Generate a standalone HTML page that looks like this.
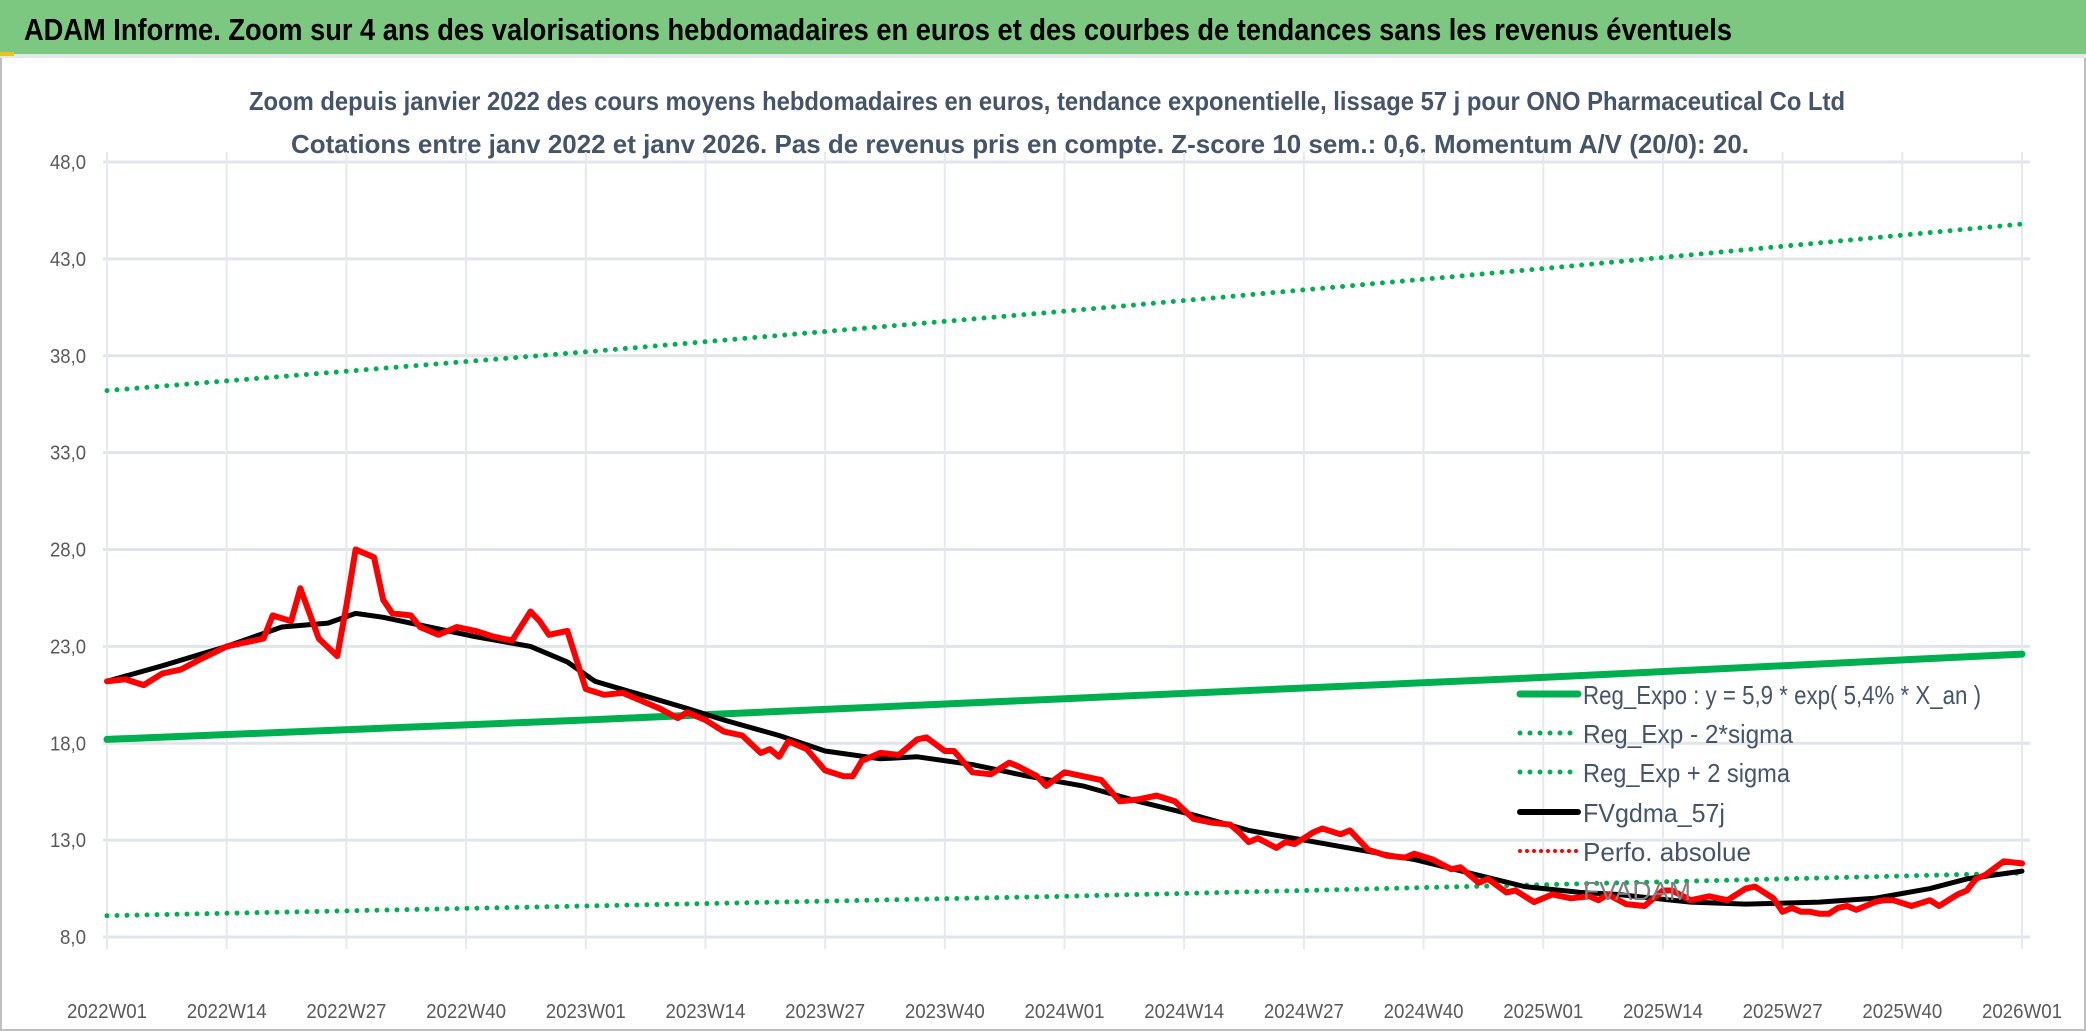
<!DOCTYPE html>
<html><head><meta charset="utf-8"><style>
html,body{margin:0;padding:0;background:#fff;}
svg{display:block;}
</style></head><body>
<svg id="chart" width="2086" height="1031" viewBox="0 0 2086 1031" xmlns="http://www.w3.org/2000/svg">
<rect x="0" y="0" width="2086" height="1031" fill="#fff"/>
<rect x="1" y="1" width="2084" height="1029" fill="none" stroke="#bfbfbf" stroke-width="2"/>
<rect x="0" y="0" width="2086" height="54" fill="#7dc880"/>
<rect x="0" y="54" width="2086" height="4" fill="#e4e7ec"/>
<rect x="0" y="52" width="14" height="4" fill="#f0c020"/>
<text x="24" y="40" font-family="Liberation Sans Narrow, Liberation Sans, sans-serif" font-weight="bold" font-size="31" fill="#000" textLength="1708" lengthAdjust="spacingAndGlyphs">ADAM Informe. Zoom sur 4 ans des valorisations hebdomadaires en euros et des courbes de tendances sans les revenus éventuels</text>
<text x="1047" y="110" text-anchor="middle" font-family="Liberation Sans Narrow, Liberation Sans, sans-serif" font-weight="bold" font-size="26" fill="#44546a" textLength="1596" lengthAdjust="spacingAndGlyphs">Zoom depuis janvier 2022 des cours moyens hebdomadaires en euros, tendance exponentielle, lissage 57 j pour ONO Pharmaceutical Co Ltd</text>
<text x="1020" y="153" text-anchor="middle" font-family="Liberation Sans Narrow, Liberation Sans, sans-serif" font-weight="bold" font-size="26" fill="#44546a" textLength="1458" lengthAdjust="spacingAndGlyphs">Cotations entre janv 2022 et janv 2026. Pas de revenus pris en compte. Z-score 10 sem.: 0,6. Momentum A/V (20/0): 20.</text>
<g id="grid"></g>
<g id="series"></g>
<g id="legend"></g>
</svg>
<script>
const yTicks = [8,13,18,23,28,33,38,43,48];
const xTickWeeks = [0,13,26,39,52,65,78,91,104,117,130,143,156,169,182,195,208];
const xTickLabels = ["2022W01","2022W14","2022W27","2022W40","2023W01","2023W14","2023W27","2023W40","2024W01","2024W14","2024W27","2024W40","2025W01","2025W14","2025W27","2025W40","2026W01"];

const priceWeeks = [0,2,4,6,8,10,13,15,17,18,20,21,23,25,26,27,29,30,31,33,34,36,38,40,42,44,46,47,48,50,52,54,56,58,60,62,63,65,67,69,71,72,73,74,76,78,80,81,82,84,86,88,89,91,92,94,96,98,99,101,102,104,106,108,110,112,114,116,118,120,122,123,124,125,127,128,129,131,132,134,135,137,139,141,142,144,146,147,149,150,152,153,155,157,159,161,162,163,165,167,169,170,172,173,174,176,178,179,181,182,183,184,185,186,187,188,189,190,192,193,194,196,198,199,200,201,202,203,204,206,208];
const priceValues = [21.2,21.3,21.0,21.6,21.8,22.3,23.0,23.2,23.4,24.6,24.3,26.0,23.4,22.5,25.1,28.0,27.6,25.4,24.7,24.6,24.0,23.6,24.0,23.8,23.5,23.3,24.8,24.3,23.6,23.8,20.8,20.5,20.6,20.2,19.8,19.3,19.6,19.2,18.6,18.4,17.5,17.7,17.3,18.1,17.7,16.6,16.3,16.3,17.1,17.5,17.4,18.2,18.3,17.6,17.6,16.5,16.4,17.0,16.8,16.3,15.8,16.5,16.3,16.1,15.0,15.1,15.3,15.0,14.1,13.9,13.8,13.4,12.9,13.1,12.6,12.9,12.8,13.4,13.6,13.3,13.5,12.5,12.2,12.1,12.3,12.0,11.5,11.6,10.8,11.0,10.3,10.4,9.8,10.2,10.0,10.1,9.9,10.2,9.7,9.6,10.4,10.4,9.9,10.0,10.1,9.9,10.5,10.6,10.0,9.3,9.5,9.3,9.3,9.2,9.2,9.5,9.6,9.4,9.8,9.9,9.9,9.6,9.9,9.6,9.9,10.2,10.4,11.0,11.2,11.9,11.8,12.1,11.7];

const fvWeeks = [0,6,13,19,24,27,30,35,40,46,50,53,58,63,67,73,78,84,88,94,100,106,112,118,124,130,136,142,148,154,160,164,168,172,178,186,192,198,202,208];
const fvValues = [21.2,22.0,23.0,24.0,24.2,24.7,24.5,24.0,23.5,23.0,22.2,21.2,20.5,19.8,19.2,18.4,17.6,17.2,17.3,16.9,16.3,15.8,15.0,14.3,13.5,13.0,12.5,12.0,11.3,10.6,10.3,10.2,10.0,9.8,9.7,9.8,10.0,10.5,11.0,11.4];

const regWeeks = [0,52,104,156,208];
const regValues = [18.2,19.2,20.3,21.4,22.6];
const regLowValues = [9.1,9.6,10.1,10.7,11.3];
const regHighValues = [36.2,38.2,40.3,42.5,44.8];

const legendLabels = ["Reg_Expo : y = 5,9 * exp( 5,4% *  X_an )","Reg_Exp - 2*sigma","Reg_Exp + 2 sigma","FVgdma_57j","Perfo. absolue","FVADAM"];
const legendWidths = [398,210,207,142,168,108];

const X0 = 107, X1 = 2022, Y8 = 937, PXU = 19.375;
function xs(w){ return X0 + (X1 - X0) * w / 208; }
function ys(v){ return Y8 - (v - 8) * PXU; }
const NS = "http://www.w3.org/2000/svg";
function mk(tag, attrs, parent){ const e = document.createElementNS(NS, tag); for (const k in attrs) e.setAttribute(k, attrs[k]); parent.appendChild(e); return e; }

const grid = document.getElementById('grid');
yTicks.forEach(v => {
  const l = mk('line', {x1:103, x2:2030, y1:ys(v), y2:ys(v), stroke:'#e1e4ea', 'stroke-width':3}, grid);
  
  
  const lab = v.toFixed(1).replace('.', ',');
  const a = {x:86, y:ys(v)+7, 'text-anchor':'end', 'font-family':'Liberation Sans Narrow, Liberation Sans, sans-serif', 'font-size':20, fill:'#595959'};
  if (lab.length > 3) { a.textLength = 36; a.lengthAdjust = 'spacingAndGlyphs'; } else { a.textLength = 26; a.lengthAdjust = 'spacingAndGlyphs'; }
  const t = mk('text', a, grid);
  t.textContent = lab;
  
  
});
xTickWeeks.forEach((w, i) => {
  const l = mk('line', {x1:xs(w), x2:xs(w), y1:ys(48)-10, y2:ys(8)+12, stroke:'#e6e9ee', 'stroke-width':2}, grid);
  
  
  const t = mk('text', {x:xs(w), y:1018, 'text-anchor':'middle', 'font-family':'Liberation Sans Narrow, Liberation Sans, sans-serif', 'font-size':20, fill:'#595959', textLength:80, lengthAdjust:'spacingAndGlyphs'}, grid);
  t.textContent = xTickLabels[i];
  
  
});

const series = document.getElementById('series');
function pts(ws, vs){ return ws.map((w,i)=>xs(w).toFixed(1)+','+ys(vs[i]).toFixed(1)).join(' '); }
const up = mk('polyline', {points:pts(regWeeks, regHighValues), fill:'none', stroke:'#00b050', 'stroke-width':5, 'stroke-dasharray':'0 10', 'stroke-linecap':'round'}, series);


const lo = mk('polyline', {points:pts(regWeeks, regLowValues), fill:'none', stroke:'#00b050', 'stroke-width':5, 'stroke-dasharray':'0 10', 'stroke-linecap':'round'}, series);


const rg = mk('polyline', {points:pts(regWeeks, regValues), fill:'none', stroke:'#00b050', 'stroke-width':7, 'stroke-linecap':'round'}, series);


const fv = mk('polyline', {points:pts(fvWeeks, fvValues), fill:'none', stroke:'#000', 'stroke-width':5, 'stroke-linejoin':'round', 'stroke-linecap':'round'}, series);


const pr = mk('polyline', {points:pts(priceWeeks, priceValues), fill:'none', stroke:'#ff0000', 'stroke-width':6, 'stroke-linejoin':'round', 'stroke-linecap':'round'}, series);



const legend = document.getElementById('legend');
const legendRowY = [694,733,772,812,851,890];
legendLabels.forEach((lab, i) => {
  const y = legendRowY[i];
  const styles = [
    {stroke:'#00b050', w:7, dash:null},
    {stroke:'#00b050', w:5, dash:'0 10'},
    {stroke:'#00b050', w:5, dash:'0 10'},
    {stroke:'#000', w:6, dash:null},
    {stroke:'#ff0000', w:4, dash:'0 7'},
    null
  ][i];
  if (styles) {
    const a = {x1:1520, x2:1578, y1:y, y2:y, stroke:styles.stroke, 'stroke-width':styles.w, 'stroke-linecap':'round'};
    if (styles.dash) a['stroke-dasharray'] = styles.dash;
    const l = mk('line', a, legend);
    
    
  }
  const t = mk('text', {x:1583, y:y+10, 'font-family':'Liberation Sans Narrow, Liberation Sans, sans-serif', 'font-size':26, fill: i===5 ? '#7f7f7f' : '#44546a', textLength:legendWidths[i], lengthAdjust:'spacingAndGlyphs'}, legend);
  t.textContent = lab;
  
  
});
</script>
</body></html>
